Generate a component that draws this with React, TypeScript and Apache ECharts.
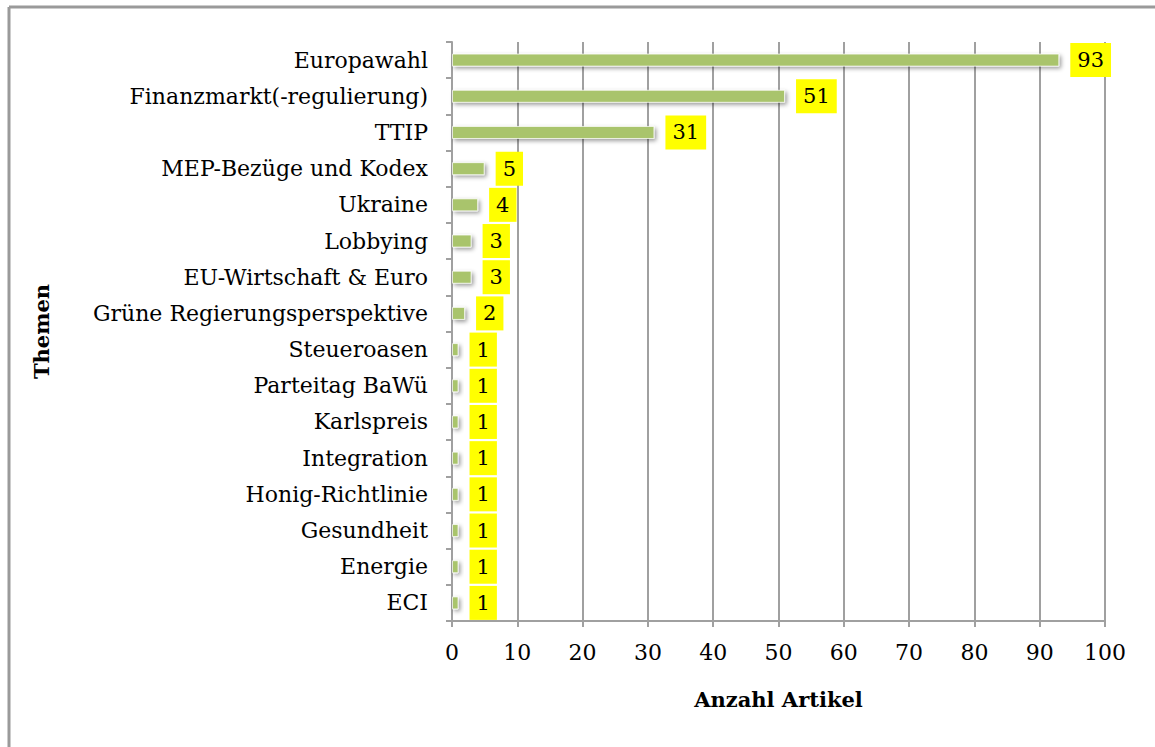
import React, { useEffect, useRef } from "react";
import * as echarts from "echarts";

const categories = [
  "Europawahl",
  "Finanzmarkt(-regulierung)",
  "TTIP",
  "MEP-Bezüge und Kodex",
  "Ukraine",
  "Lobbying",
  "EU-Wirtschaft & Euro",
  "Grüne Regierungsperspektive",
  "Steueroasen",
  "Parteitag BaWü",
  "Karlspreis",
  "Integration",
  "Honig-Richtlinie",
  "Gesundheit",
  "Energie",
  "ECI",
];
const values = [93, 51, 31, 5, 4, 3, 3, 2, 1, 1, 1, 1, 1, 1, 1, 1];
const xTicks = { min: 0, max: 100, interval: 10 };
const xAxisTitle = "Anzahl Artikel";
const yAxisTitle = "Themen";

const FONT = "DejaVu Serif";

export default function App() {
  const ref = useRef<HTMLDivElement>(null);
  useEffect(() => {
    if (!ref.current) return;
    const chart = echarts.init(ref.current, null, { renderer: "svg" });
    chart.setOption({
      animation: false,
      backgroundColor: "#ffffff",
      textStyle: { fontFamily: FONT },
      graphic: [
        {
          type: "line",
          shape: { x1: 9, y1: 7, x2: 1155, y2: 7 },
          style: { stroke: "#9a9a9a", lineWidth: 3 },
          silent: true,
        },
        {
          type: "line",
          shape: { x1: 9, y1: 7, x2: 9, y2: 747 },
          style: { stroke: "#9a9a9a", lineWidth: 3 },
          silent: true,
        },
      ],
      grid: { left: 452, right: 50, top: 42, bottom: 126, containLabel: false },
      xAxis: {
        type: "value",
        min: xTicks.min,
        max: xTicks.max,
        interval: xTicks.interval,
        name: xAxisTitle,
        nameLocation: "middle",
        nameGap: 68,
        nameTextStyle: { fontFamily: FONT, fontWeight: "bold", fontSize: 21, color: "#000" },
        axisLine: { show: true, lineStyle: { color: "#a0a0a0", width: 2 } },
        axisTick: { show: true, length: 6, lineStyle: { color: "#a0a0a0", width: 2 } },
        axisLabel: { margin: 20, fontFamily: FONT, fontSize: 22, color: "#000" },
        splitLine: { show: true, lineStyle: { color: "#a0a0a0", width: 2 } },
      },
      yAxis: {
        type: "category",
        data: categories,
        inverse: true,
        name: yAxisTitle,
        nameLocation: "middle",
        nameGap: 400,
        nameRotate: 90,
        nameTextStyle: { fontFamily: FONT, fontWeight: "bold", fontSize: 21, color: "#000" },
        axisLine: { show: true, lineStyle: { color: "#a0a0a0", width: 2 } },
        axisTick: { show: true, length: 6, lineStyle: { color: "#a0a0a0", width: 2 } },
        axisLabel: { margin: 24, fontFamily: FONT, fontSize: 22, color: "#000" },
        splitLine: { show: false },
      },
      series: [
        {
          type: "bar",
          data: values,
          barWidth: 13,
          itemStyle: {
            color: "#a9c46c",
            borderColor: "rgba(255,255,255,0.7)",
            borderWidth: 1,
            shadowColor: "rgba(0,0,0,0.4)",
            shadowBlur: 4,
            shadowOffsetX: 2,
            shadowOffsetY: 2,
          },
          label: {
            show: true,
            position: "right",
            distance: 11,
            fontFamily: FONT,
            fontSize: 21,
            lineHeight: 24,
            color: "#000",
            backgroundColor: "#ffff00",
            padding: [5, 7],
          },
        },
      ],
    });
    return () => chart.dispose();
  }, []);
  return (
    <div
      ref={ref}
      style={{ position: "fixed", left: 0, top: 0, width: 1155, height: 747 }}
    />
  );
}
